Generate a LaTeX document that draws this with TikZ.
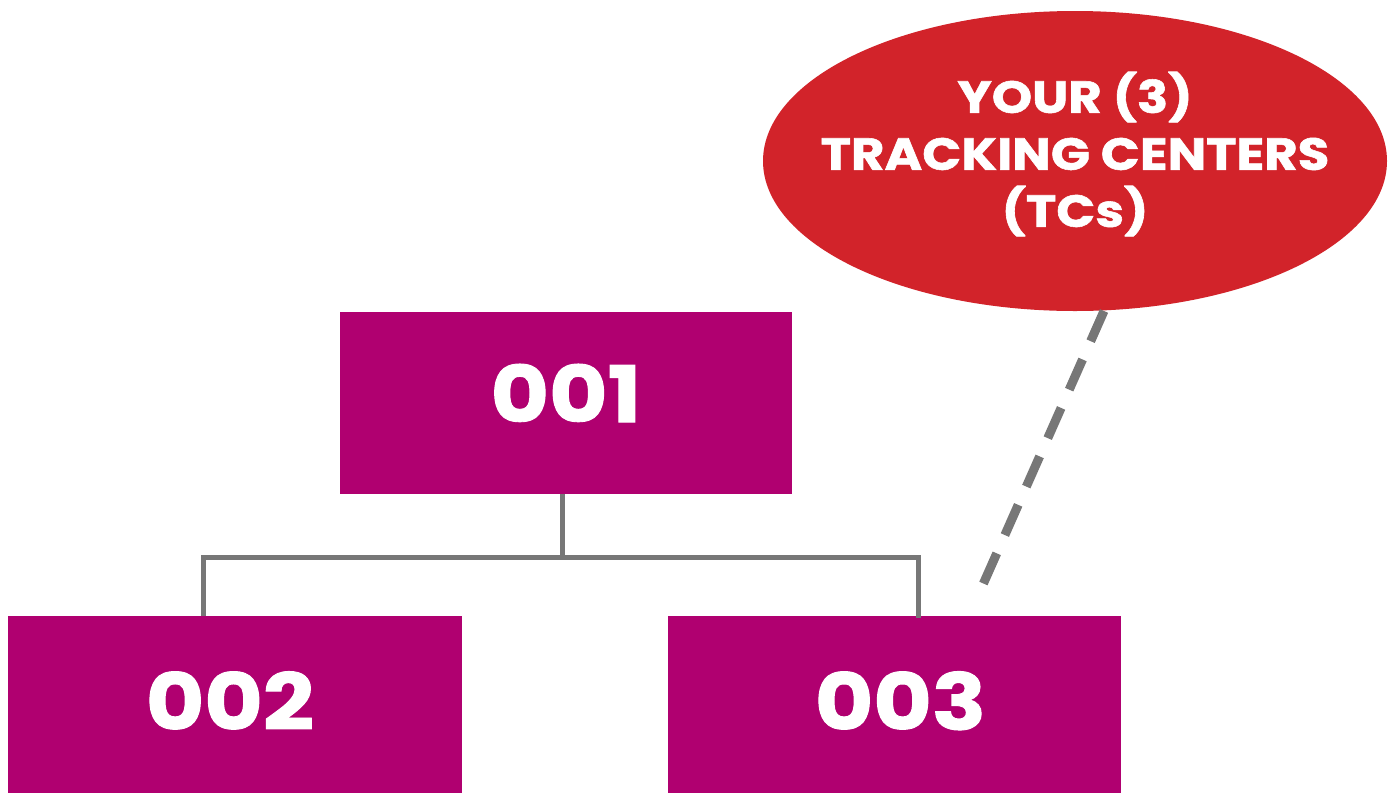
\documentclass[tikz,border=0pt]{standalone}
\usepackage{fontspec}
\setmainfont{Poppins}[BoldFeatures={FakeBold=1.2}]
\usetikzlibrary{shapes.geometric}
\definecolor{boxmag}{RGB}{176,0,112}
\definecolor{tcred}{RGB}{210,35,42}
\definecolor{lgray}{RGB}{119,119,119}
\newcommand{\wide}[2]{\scalebox{#1}[1]{#2}}
\begin{document}
\begin{tikzpicture}[x=1pt,y=-1pt,
  box/.style={rectangle,fill=boxmag,draw=none,inner sep=0pt,text=white,font=\fontsize{78}{78}\selectfont\bfseries},
  tree/.style={draw=lgray,line width=5pt},
  dashline/.style={draw=lgray,line width=9pt,dash pattern=on 33pt off 20pt}]
\useasboundingbox (0,0) rectangle (1395,793);
\node[ellipse,fill=tcred,draw=none,minimum width=624pt,minimum height=300pt,inner sep=0pt] (tc) at (1075,161) {};
\node[text=white,align=center,font=\fontsize{45}{57}\selectfont\bfseries] (tctext) at (1075,154) {\wide{1.14}{YOUR (3)}\\\wide{1.14}{TRACKING CENTERS}\\\wide{1.14}{(TCs)}};
\node[box,minimum width=452pt,minimum height=182pt] (n1) at (566,403) {\raisebox{20pt}{\wide{1.15}{001}}};
\node[box,minimum width=454pt,minimum height=177pt] (n2) at (235,704.5) {\raisebox{8pt}{\wide{1.15}{002}}\hspace*{10pt}};
\node[box,minimum width=453pt,minimum height=177pt] (n3) at (894.5,704.5) {\hspace*{12pt}\raisebox{8pt}{\wide{1.15}{003}}};
\coordinate (j) at (562,557);
\coordinate (bl) at (203,557);
\coordinate (br) at (918,557);
\draw[tree] (n1.south -| j) -- (j);
\draw[tree] (n2.north -| bl) -- (bl) -- (br) -- ([yshift=-2pt]n3.north -| br);
\coordinate (ds) at (1104,311);
\coordinate (de) at (977,598);
\draw[dashline] (ds) -- (de);
\end{tikzpicture}
\end{document}
